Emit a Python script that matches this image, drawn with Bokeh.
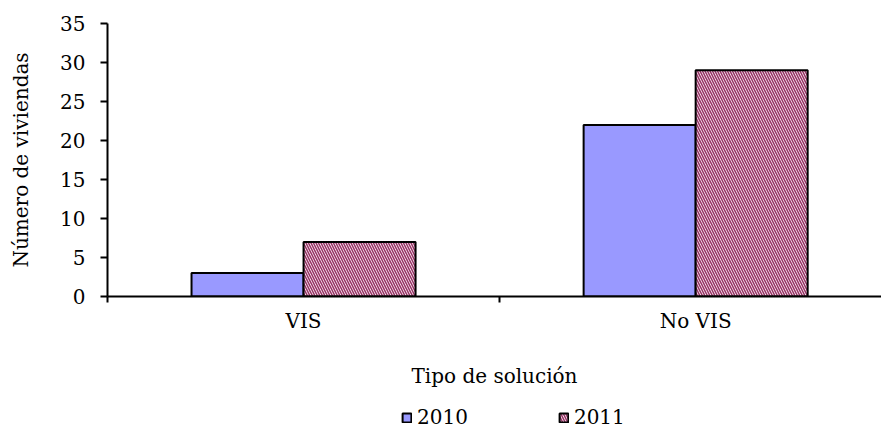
from bokeh.plotting import figure
from bokeh.layouts import column
from bokeh.models import FixedTicker, Range1d, Legend, LegendItem, ColumnDataSource
from bokeh.embed import file_html
from bokeh.resources import INLINE

categories = ["VIS", "No VIS"]
series_names = ["2010", "2011"]
values_2010 = [3, 22]
values_2011 = [7, 29]
y_ticks = [0, 5, 10, 15, 20, 25, 30, 35]

FONT = "DejaVu Serif"
FS = "20px"
C2010 = "#9999FF"
C2011 = "#993366"

p = figure(width=881, height=396, output_backend="svg", toolbar_location=None,
           x_range=Range1d(0, 1.974), y_range=Range1d(0, 35),
           min_border_left=107, min_border_right=0, min_border_top=23, min_border_bottom=100)
p.outline_line_color = None
p.grid.visible = False

centers = [i + 0.5 for i in range(len(categories))]
bw = 0.2857
src1 = ColumnDataSource(dict(x=[c - bw / 2 for c in centers], top=values_2010))
src2 = ColumnDataSource(dict(x=[c + bw / 2 for c in centers], top=values_2011))

bar1 = dict(fill_color=C2010, line_color="black", line_width=2)
bar2 = dict(fill_color="white", hatch_pattern="\\", hatch_color=C2011, hatch_scale=5,
            hatch_weight=1.6, line_color="black", line_width=2)
p.vbar(x="x", top="top", width=bw, source=src1, **bar1)
p.vbar(x="x", top="top", width=bw, source=src2, **bar2)

p.xaxis.ticker = FixedTicker(ticks=centers, minor_ticks=[0, 1, 2])
p.xaxis.major_label_overrides = {c: n for c, n in zip(centers, categories)}
p.xaxis.major_tick_line_color = None
p.xaxis.major_tick_out = 0
p.xaxis.major_tick_in = 0
p.xaxis.minor_tick_out = 6
p.xaxis.minor_tick_in = 0
p.xaxis.minor_tick_line_width = 2
p.xaxis.axis_line_width = 2
p.xaxis.major_label_standoff = 6
p.xaxis.axis_label = "Tipo de solución"
p.xaxis.axis_label_standoff = 28

p.yaxis.ticker = FixedTicker(ticks=y_ticks)
p.yaxis.minor_tick_line_color = None
p.yaxis.major_tick_out = 7
p.yaxis.major_tick_in = 0
p.yaxis.major_tick_line_width = 2
p.yaxis.axis_line_width = 2
p.yaxis.major_label_standoff = 15
p.yaxis.axis_label = "Número de viviendas"
p.yaxis.axis_label_standoff = 24

for ax in (p.xaxis, p.yaxis):
    ax.major_label_text_font = FONT
    ax.major_label_text_font_size = FS
    ax.major_label_text_color = "black"
    ax.axis_label_text_font = FONT
    ax.axis_label_text_font_size = FS
    ax.axis_label_text_font_style = "normal"
    ax.axis_label_text_color = "black"
    ax.axis_line_color = "black"

# legend strip below the chart (its frame is aligned with the chart frame by the column)
lg = figure(width=881, height=32, output_backend="svg", toolbar_location=None,
            x_range=Range1d(0, 1), y_range=Range1d(0, 1),
            x_axis_type=None, y_axis_type=None,
            min_border_left=107, min_border_right=0, min_border_top=0, min_border_bottom=0)
lg.outline_line_color = None
lg.grid.visible = False
nan = float("nan")
e1 = ColumnDataSource(dict(x=[nan], top=[nan]))
e2 = ColumnDataSource(dict(x=[nan], top=[nan]))
l1 = lg.vbar(x="x", top="top", width=0.1, source=e1, **bar1)
l2 = lg.vbar(x="x", top="top", width=0.1, source=e2, **bar2)
legend = Legend(items=[LegendItem(label=series_names[0], renderers=[l1]),
                       LegendItem(label=series_names[1], renderers=[l2])],
                orientation="horizontal", location=(294, -1),
                label_text_font=FONT, label_text_font_size=FS, label_text_color="black",
                glyph_width=11, glyph_height=11, label_standoff=5, spacing=90,
                border_line_color=None, background_fill_alpha=0, padding=0, margin=0)
lg.add_layout(legend, "center")

layout = column(p, lg, spacing=0)
open("out.html", "w").write(file_html(layout, INLINE))
